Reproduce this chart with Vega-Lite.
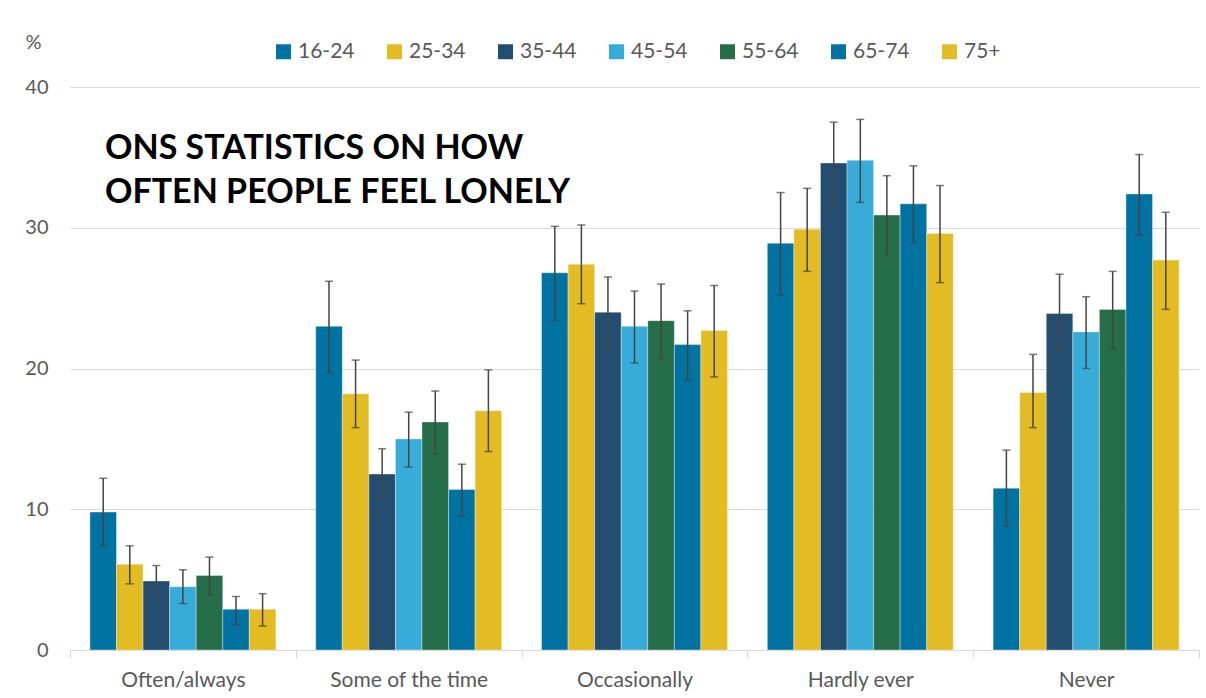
{
  "$schema": "https://vega.github.io/schema/vega-lite/v6.json",
  "width": 1129,
  "height": 563,
  "autosize": {"type": "none"},
  "padding": {"left": 70, "top": 87, "right": 7, "bottom": 48},
  "background": "white",
  "title": {
    "text": ["ONS STATISTICS ON HOW", "OFTEN PEOPLE FEEL LONELY"],
    "anchor": "start",
    "frame": "group",
    "orient": "top",
    "font": "Lato",
    "fontSize": 34,
    "fontWeight": "bold",
    "color": "#000000",
    "lineHeight": 44,
    "dx": 35,
    "dy": 182
  },
  "data": {
    "values": [
      {"cat": "Often/always", "age": "16-24", "v": 9.8, "lo": 7.4, "hi": 12.2},
      {"cat": "Often/always", "age": "25-34", "v": 6.1, "lo": 4.7, "hi": 7.4},
      {"cat": "Often/always", "age": "35-44", "v": 4.9, "lo": 3.8, "hi": 6.0},
      {"cat": "Often/always", "age": "45-54", "v": 4.5, "lo": 3.3, "hi": 5.7},
      {"cat": "Often/always", "age": "55-64", "v": 5.3, "lo": 3.9, "hi": 6.6},
      {"cat": "Often/always", "age": "65-74", "v": 2.9, "lo": 1.8, "hi": 3.8},
      {"cat": "Often/always", "age": "75+", "v": 2.9, "lo": 1.7, "hi": 4.0},
      {"cat": "Some of the time", "age": "16-24", "v": 23.0, "lo": 19.7, "hi": 26.2},
      {"cat": "Some of the time", "age": "25-34", "v": 18.2, "lo": 15.8, "hi": 20.6},
      {"cat": "Some of the time", "age": "35-44", "v": 12.5, "lo": 10.7, "hi": 14.3},
      {"cat": "Some of the time", "age": "45-54", "v": 15.0, "lo": 13.0, "hi": 16.9},
      {"cat": "Some of the time", "age": "55-64", "v": 16.2, "lo": 13.9, "hi": 18.4},
      {"cat": "Some of the time", "age": "65-74", "v": 11.4, "lo": 9.5, "hi": 13.2},
      {"cat": "Some of the time", "age": "75+", "v": 17.0, "lo": 14.1, "hi": 19.9},
      {"cat": "Occasionally", "age": "16-24", "v": 26.8, "lo": 23.4, "hi": 30.1},
      {"cat": "Occasionally", "age": "25-34", "v": 27.4, "lo": 24.6, "hi": 30.2},
      {"cat": "Occasionally", "age": "35-44", "v": 24.0, "lo": 21.4, "hi": 26.5},
      {"cat": "Occasionally", "age": "45-54", "v": 23.0, "lo": 20.4, "hi": 25.5},
      {"cat": "Occasionally", "age": "55-64", "v": 23.4, "lo": 20.7, "hi": 26.0},
      {"cat": "Occasionally", "age": "65-74", "v": 21.7, "lo": 19.2, "hi": 24.1},
      {"cat": "Occasionally", "age": "75+", "v": 22.7, "lo": 19.4, "hi": 25.9},
      {"cat": "Hardly ever", "age": "16-24", "v": 28.9, "lo": 25.2, "hi": 32.5},
      {"cat": "Hardly ever", "age": "25-34", "v": 29.9, "lo": 26.9, "hi": 32.8},
      {"cat": "Hardly ever", "age": "35-44", "v": 34.6, "lo": 31.6, "hi": 37.5},
      {"cat": "Hardly ever", "age": "45-54", "v": 34.8, "lo": 31.8, "hi": 37.7},
      {"cat": "Hardly ever", "age": "55-64", "v": 30.9, "lo": 28.0, "hi": 33.7},
      {"cat": "Hardly ever", "age": "65-74", "v": 31.7, "lo": 28.9, "hi": 34.4},
      {"cat": "Hardly ever", "age": "75+", "v": 29.6, "lo": 26.1, "hi": 33.0},
      {"cat": "Never", "age": "16-24", "v": 11.5, "lo": 8.8, "hi": 14.2},
      {"cat": "Never", "age": "25-34", "v": 18.3, "lo": 15.8, "hi": 21.0},
      {"cat": "Never", "age": "35-44", "v": 23.9, "lo": 21.2, "hi": 26.7},
      {"cat": "Never", "age": "45-54", "v": 22.6, "lo": 20.0, "hi": 25.1},
      {"cat": "Never", "age": "55-64", "v": 24.2, "lo": 21.4, "hi": 26.9},
      {"cat": "Never", "age": "65-74", "v": 32.4, "lo": 29.5, "hi": 35.2},
      {"cat": "Never", "age": "75+", "v": 27.7, "lo": 24.2, "hi": 31.1}
    ]
  },
  "encoding": {
    "x": {
      "field": "cat",
      "type": "nominal",
      "sort": ["Often/always", "Some of the time", "Occasionally", "Hardly ever", "Never"],
      "scale": {"paddingInner": 0, "paddingOuter": 0},
      "axis": {
        "title": null,
        "labelAngle": 0,
        "tickBand": "extent",
        "domainColor": "#d9d9d9",
        "tickColor": "#d9d9d9",
        "tickSize": 8,
        "labelFont": "Lato",
        "labelFontSize": 21,
        "labelColor": "#595959",
        "labelPadding": 11,
        "grid": false
      }
    },
    "xOffset": {
      "field": "age",
      "type": "nominal",
      "sort": ["16-24", "25-34", "35-44", "45-54", "55-64", "65-74", "75+"],
      "scale": {"paddingInner": 0, "paddingOuter": 0.75}
    }
  },
  "layer": [
    {
      "mark": {"type": "bar", "stroke": "#ffffff", "strokeWidth": 0.6, "strokeOpacity": 0.6},
      "encoding": {
        "y": {
          "field": "v",
          "type": "quantitative",
          "scale": {"domain": [0, 40]},
          "axis": {
            "values": [0, 10, 20, 30, 40],
            "title": "%",
            "titleAngle": 0,
            "titleX": -45,
            "titleY": -39,
            "titleAlign": "left",
            "titleBaseline": "alphabetic",
            "titleFont": "Lato",
            "titleFontSize": 20,
            "titleFontWeight": "normal",
            "titleColor": "#595959",
            "labelFont": "Lato",
            "labelFontSize": 20,
            "labelColor": "#595959",
            "labelPadding": 22,
            "ticks": false,
            "domain": false,
            "gridColor": "#d9d9d9",
            "gridWidth": 1
          }
        },
        "color": {
          "field": "age",
          "type": "nominal",
          "sort": ["16-24", "25-34", "35-44", "45-54", "55-64", "65-74", "75+"],
          "scale": {
            "domain": ["16-24", "25-34", "35-44", "45-54", "55-64", "65-74", "75+"],
            "range": ["#0073A3", "#E2BC22", "#234D6E", "#38ACD9", "#266D4A", "#0073A3", "#E2BC22"]
          },
          "legend": {
            "title": null,
            "orient": "none",
            "legendX": 203,
            "legendY": -46,
            "direction": "horizontal",
            "columns": 7,
            "gridAlign": "all",
            "columnPadding": 29,
            "symbolType": "square",
            "symbolSize": 225,
            "symbolStrokeWidth": 0,
            "labelFont": "Lato",
            "labelFontSize": 21,
            "labelColor": "#595959",
            "labelOffset": 4,
            "padding": 0
          }
        }
      }
    },
    {
      "mark": {"type": "rule", "color": "#444444", "strokeWidth": 1.5},
      "encoding": {
        "y": {"field": "lo", "type": "quantitative"},
        "y2": {"field": "hi"}
      }
    },
    {
      "mark": {"type": "tick", "color": "#444444", "thickness": 1.5, "size": 8},
      "encoding": {
        "y": {"field": "lo", "type": "quantitative"}
      }
    },
    {
      "mark": {"type": "tick", "color": "#444444", "thickness": 1.5, "size": 8},
      "encoding": {
        "y": {"field": "hi", "type": "quantitative"}
      }
    }
  ],
  "config": {
    "view": {"stroke": null}
  }
}
